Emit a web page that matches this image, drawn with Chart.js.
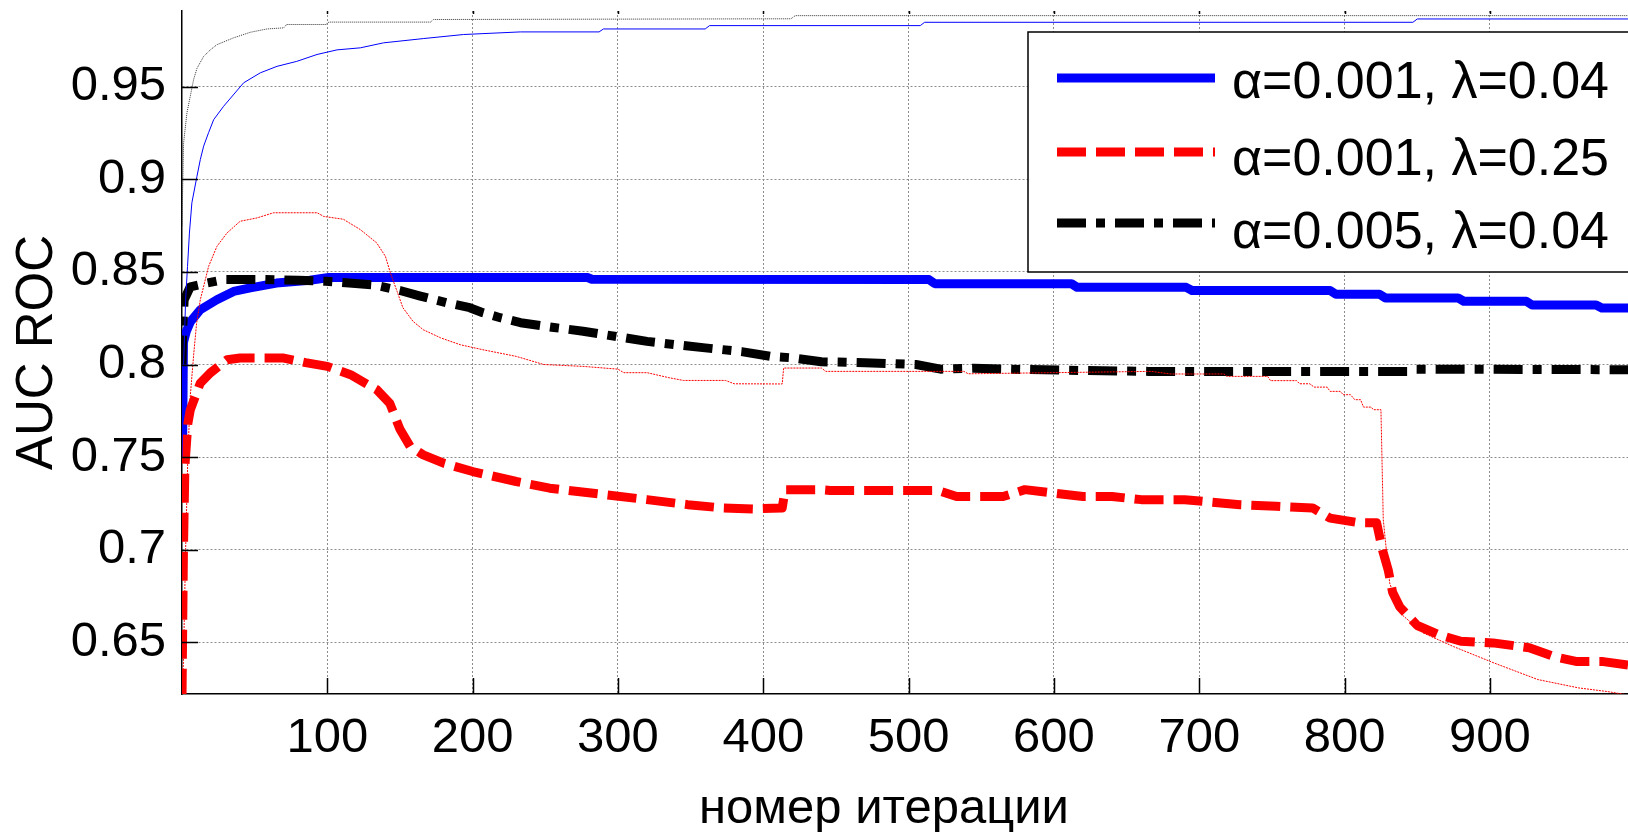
<!DOCTYPE html>
<html>
<head>
<meta charset="utf-8">
<script src="https://cdn.jsdelivr.net/npm/chart.js@4.4.0/dist/chart.umd.min.js"></script>
<style>
body{margin:0;background:#fff;}
#caja{width:1628px;height:832px;position:relative;}
</style>
</head>
<body>
<div id="caja"><canvas id="grafico"></canvas></div>
<script>
// ticks
const ticksX = [100,200,300,400,500,600,700,800,900];
const ticksY = [0.65,0.7,0.75,0.8,0.85,0.9,0.95];
const etiquetasY = ['0.65','0.7','0.75','0.8','0.85','0.9','0.95'];

const nombres = ['\u03b1=0.001, \u03bb=0.04','\u03b1=0.001, \u03bb=0.25','\u03b1=0.005, \u03bb=0.04'];

// serie azul gruesa
const azulX = [0.3,1,3,5.7,12.6,24,35.5,47,65,88,101,279,282,514,518,612,616,691,695,790,794,824,828,878,882,925,929,973,977,995];
const azulY = [0.747,0.812,0.818,0.823,0.8296,0.835,0.8395,0.8414,0.844,0.8455,0.847,0.847,0.8461,0.8459,0.8437,0.8437,0.8417,0.8417,0.840,0.840,0.838,0.838,0.836,0.836,0.8342,0.8342,0.8322,0.8322,0.8305,0.8305];

// serie roja discontinua
const rojoX = [0,1,2,4,5.7,12.6,19.5,31,40,70,85,100,116,134,143,150,157,166,180,200,230,253,292,320,348,372,393,413,415,440,446,520,533,565,580,600,620,640,660,690,704,728,753,778,790,810,822,826,830,833,838,850,865,880,902,927,945,960,978,995];
const rojoY = [0.62,0.70,0.745,0.768,0.7755,0.790,0.7955,0.8026,0.8035,0.8035,0.801,0.799,0.7945,0.7864,0.779,0.765,0.7557,0.7512,0.7467,0.7422,0.7368,0.7332,0.7296,0.727,0.7243,0.7225,0.722,0.7225,0.7324,0.7324,0.732,0.732,0.7287,0.7287,0.7324,0.7305,0.7287,0.7287,0.727,0.727,0.726,0.7243,0.7234,0.7225,0.717,0.7145,0.7145,0.70,0.689,0.677,0.669,0.659,0.654,0.6505,0.6496,0.647,0.642,0.6395,0.6395,0.6377];

// serie negra punto-raya
const negroX = [0,0.5,1.5,5.7,17,30,55,80,99,115,132,150,164,182,198,207,219,233,256,276,300,320,340,360,385,405,420,440,470,505,522,545,580,620,665,700,845,849,995];
const negroY = [0.80,0.82,0.835,0.842,0.844,0.846,0.846,0.8455,0.845,0.844,0.843,0.840,0.837,0.8334,0.8307,0.828,0.8253,0.8226,0.820,0.818,0.815,0.8125,0.8107,0.809,0.807,0.8044,0.8036,0.8015,0.801,0.800,0.7975,0.798,0.7973,0.7968,0.7963,0.7962,0.7962,0.7975,0.7972];

// lineas finas sin leyenda
const grisX = [0,0.3,1.1,3.4,5.7,8,10.3,14.9,19.5,24,35.5,47,58.5,70,72,99,101,171,173,419,422,995];
const grisY = [0.875,0.889,0.9197,0.936,0.945,0.954,0.960,0.9665,0.970,0.9728,0.9765,0.9795,0.9813,0.9819,0.9837,0.9837,0.985,0.985,0.9864,0.9868,0.9885,0.9885];

const azulFinoX = [0,1.1,2.5,3.8,5.1,6.8,10.3,12.6,14.9,18.3,21.8,28.6,42.4,53.9,65.4,79,92.9,106.7,122.7,138.7,166,193.8,232.8,287,290,360,363,508,511,847,850,995];
const azulFinoY = [0.75,0.80,0.835,0.853,0.871,0.8874,0.9017,0.9107,0.918,0.9253,0.9323,0.9395,0.9522,0.9576,0.9611,0.9638,0.9675,0.970,0.9711,0.9738,0.9761,0.9783,0.9797,0.9797,0.9813,0.9813,0.9831,0.9831,0.9849,0.9849,0.9867,0.9867];

const rojoFinoX = [0,1,2.5,4,5.7,8,10,12.6,18.3,24,31,40,51.6,63,93,97.5,111,122.7,134,140,143.4,148,152,159,166,178,191.5,207,230,249,276,300,304,320,335,345,374,380,413,414,440,443,538,541,667,680,717,719,747,749,767,769,776,779,788,790,797,799,804,807,811,813,818,820,825,826.6,831,838,854,875,903,933,961,981,995];
const rojoFinoY = [0.622,0.64,0.70,0.75,0.783,0.805,0.822,0.835,0.853,0.8638,0.8711,0.8774,0.8792,0.882,0.882,0.880,0.8785,0.8729,0.8657,0.8584,0.8495,0.8395,0.8307,0.8233,0.8188,0.8144,0.8107,0.808,0.8044,0.800,0.799,0.7975,0.7956,0.7956,0.7929,0.7914,0.7914,0.7896,0.7895,0.7981,0.7981,0.7963,0.7963,0.795,0.7963,0.7949,0.7949,0.7936,0.7936,0.7913,0.7913,0.7896,0.7896,0.7878,0.7878,0.7855,0.7855,0.7837,0.7837,0.781,0.781,0.777,0.777,0.7756,0.7756,0.7162,0.682,0.6658,0.655,0.6476,0.6387,0.6298,0.6253,0.6233,0.6215];

const fuente = '"Liberation Sans", Arial, sans-serif';

const puntos = (xs, ys) => xs.map((x, i) => ({x: x, y: ys[i]}));

const serie = (label, xs, ys, color, ancho, dash, orden) => ({
    label: label,
    data: puntos(xs, ys),
    borderColor: color,
    borderWidth: ancho,
    borderDash: dash,
    borderCapStyle: 'butt',
    borderJoinStyle: 'round',
    pointRadius: 0,
    fill: false,
    tension: 0,
    clip: 0,
    order: orden
});

const datasets = [
    serie(nombres[0], azulX, azulY, '#0000ff', 9, [], 6),
    serie(nombres[1], rojoX, rojoY, '#ff0000', 9, [29,10], 5),
    serie(nombres[2], negroX, negroY, '#000000', 9, [29,10,9,10], 4),
    serie('', grisX, grisY, '#333333', 1, [1,1], 3),
    serie('', azulFinoX, azulFinoY, '#0000ff', 1, [], 2),
    serie('', rojoFinoX, rojoFinoY, '#ff0000', 1, [2,1], 1)
];

// ticks hacia adentro, leyenda y titulo del eje x
const extras = {
    id: 'extras',
    afterDraw(chart) {
        const ctx = chart.ctx;
        const a = chart.chartArea;
        const sx = chart.scales.x, sy = chart.scales.y;
        ctx.save();
        ctx.strokeStyle = '#000';
        ctx.lineWidth = 1.5;
        ctx.beginPath();
        for (const v of ticksY) {
            const y = Math.round(sy.getPixelForValue(v)) + 0.5;
            ctx.moveTo(a.left, y); ctx.lineTo(a.left + 16, y);
        }
        for (const v of ticksX) {
            const x = Math.round(sx.getPixelForValue(v)) + 0.5;
            ctx.moveTo(x, a.bottom); ctx.lineTo(x, a.bottom - 16);
            ctx.moveTo(x, a.top); ctx.lineTo(x, a.top + 3);
        }
        ctx.stroke();

        // leyenda
        const lx = a.left + 846, ly = a.top + 21;
        ctx.fillStyle = '#fff';
        ctx.fillRect(lx, ly, a.right - lx + 10, 240);
        ctx.lineWidth = 1.5;
        ctx.strokeRect(lx, ly, a.right - lx + 10, 240);
        const filas = [46, 120, 191];
        const bases = [66, 143, 216];
        ctx.font = '52px ' + fuente;
        ctx.textAlign = 'left';
        ctx.textBaseline = 'alphabetic';
        for (let i = 0; i < 3; i++) {
            const ds = chart.data.datasets[i];
            ctx.beginPath();
            ctx.strokeStyle = ds.borderColor;
            ctx.lineWidth = ds.borderWidth;
            ctx.lineCap = 'butt';
            ctx.setLineDash(ds.borderDash);
            ctx.moveTo(lx + 29, ly + filas[i]);
            ctx.lineTo(lx + 187, ly + filas[i]);
            ctx.stroke();
            ctx.setLineDash([]);
            ctx.fillStyle = '#000';
            ctx.fillText(ds.label, lx + 204, ly + bases[i]);
        }

        // titulo eje x
        ctx.font = '49px ' + fuente;
        ctx.textAlign = 'center';
        ctx.fillText('\u043d\u043e\u043c\u0435\u0440 \u0438\u0442\u0435\u0440\u0430\u0446\u0438\u0438', a.left + 702, a.bottom + 129);
        ctx.restore();
    }
};

const config = {
    type: 'line',
    data: { datasets: datasets },
    options: {
        responsive: true,
        maintainAspectRatio: false,
        animation: false,
        events: [],
        layout: { autoPadding: false, padding: { top: 11, left: 0, right: 0, bottom: 0 } },
        plugins: {
            legend: { display: false },
            tooltip: { enabled: false }
        },
        scales: {
            x: {
                type: 'linear',
                min: 0,
                max: 995,
                afterBuildTicks: s => { s.ticks = ticksX.map(v => ({value: v})); },
                afterFit: s => { s.height = 138; s.paddingLeft = 0; s.paddingRight = 0; },
                ticks: {
                    autoSkip: false,
                    maxRotation: 0,
                    padding: 15,
                    color: '#000',
                    font: { family: fuente, size: 49 },
                    callback: v => String(v)
                },
                grid: { color: '#8c8c8c', lineWidth: 1, drawTicks: false },
                border: { display: true, color: '#000', width: 1.5, dash: [2,2] }
            },
            y: {
                type: 'linear',
                min: 0.622,
                max: 0.991,
                afterBuildTicks: s => { s.ticks = ticksY.map(v => ({value: v})); },
                afterFit: s => { s.width = 182; s.paddingTop = 0; s.paddingBottom = 0; },
                ticks: {
                    padding: 16,
                    color: '#000',
                    font: { family: fuente, size: 49 },
                    callback: (v, i) => etiquetasY[i]
                },
                grid: { color: '#8c8c8c', lineWidth: 1, drawTicks: false },
                border: { display: true, color: '#000', width: 1.5, dash: [2,2] },
                title: {
                    display: true,
                    text: 'AUC ROC',
                    color: '#000',
                    font: { family: fuente, size: 51 },
                    padding: { top: 7, bottom: 0 }
                }
            }
        }
    },
    plugins: [extras]
};

const grafico = new Chart(document.getElementById('grafico'), config);
</script>
</body>
</html>
